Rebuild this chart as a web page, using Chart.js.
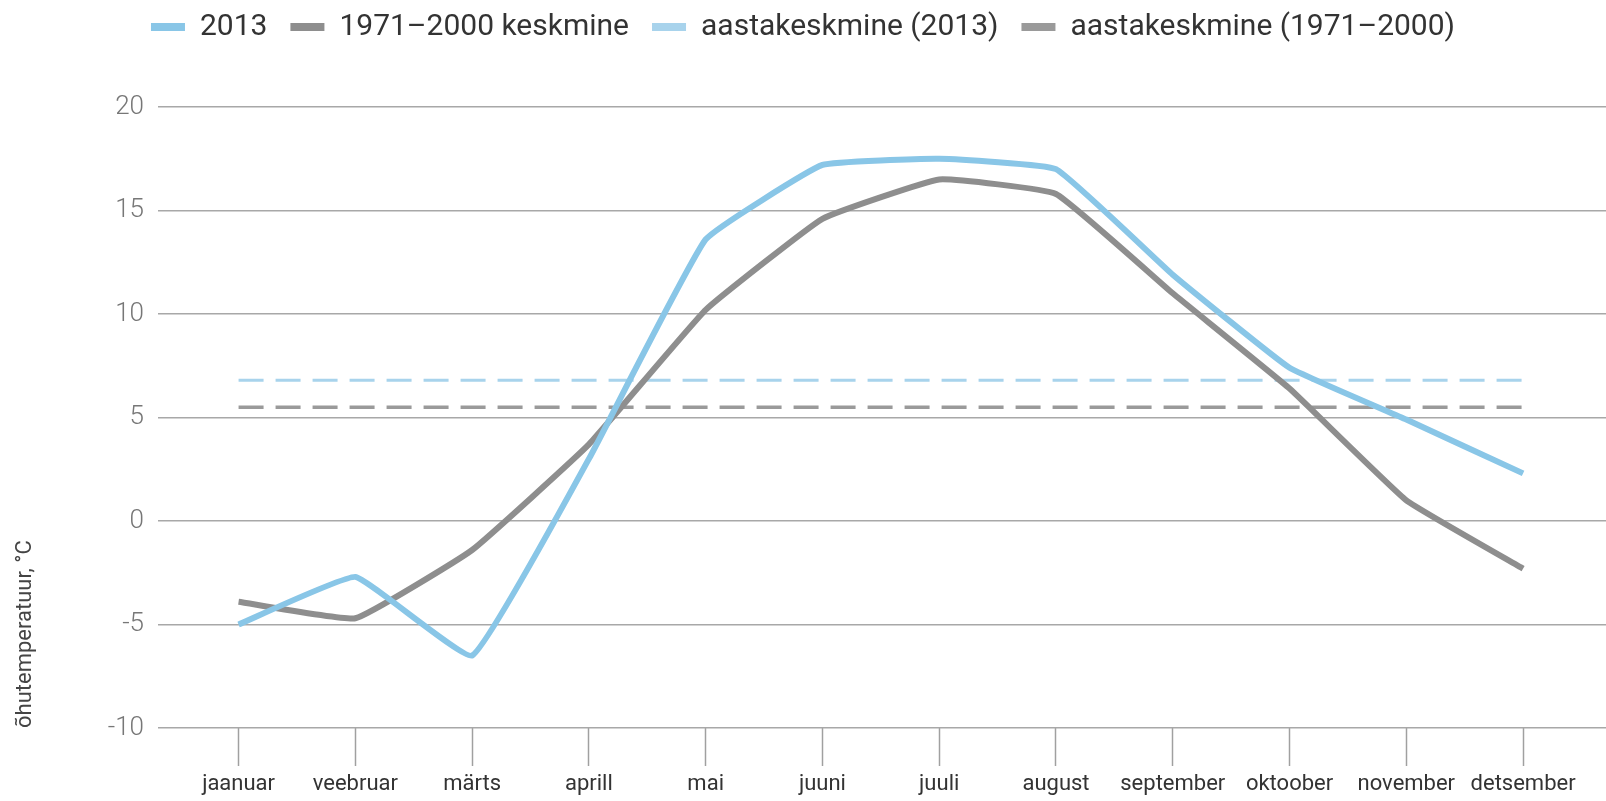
<!DOCTYPE html>
<html>
<head>
<meta charset="utf-8">
<script src="https://cdn.jsdelivr.net/npm/chart.js@4.4.1/dist/chart.umd.min.js"></script>
<style>
  html, body { margin: 0; padding: 0; background: #fff; }
  .chart-box { width: 1606px; height: 801px; position: relative; }
</style>
</head>
<body>
<div class="chart-box"><canvas id="chart"></canvas></div>
<script>
const months = ['jaanuar', 'veebruar', 'märts', 'aprill', 'mai', 'juuni', 'juuli', 'august', 'september', 'oktoober', 'november', 'detsember'];
const temps2013 = [-5.0, -2.7, -6.5, 3.0, 13.6, 17.2, 17.5, 17.0, 11.9, 7.4, 4.9, 2.3];
const tempsNorm = [-3.9, -4.7, -1.4, 3.7, 10.2, 14.6, 16.5, 15.8, 11.0, 6.4, 1.0, -2.3];
const mean2013 = [6.8, 6.8, 6.8, 6.8, 6.8, 6.8, 6.8, 6.8, 6.8, 6.8, 6.8, 6.8];
const meanNorm = [5.5, 5.5, 5.5, 5.5, 5.5, 5.5, 5.5, 5.5, 5.5, 5.5, 5.5, 5.5];
const yTicks = [-10, -5, 0, 5, 10, 15, 20];

const toPoints = (arr) => arr.map((v, i) => ({ x: i, y: v }));

Chart.defaults.font.family = 'Roboto, "Noto Sans", sans-serif';

// legend gets a fixed height so the plot starts at the right spot
const legendSpace = {
  id: 'legendSpace',
  beforeInit(chart) {
    const fit = chart.legend.fit;
    chart.legend.fit = function () {
      fit.bind(chart.legend)();
      this.height = 107;
    };
  },
  afterLayout(chart) {
    chart.legend.top -= 11;
  },
};

const ctx = document.querySelector('#chart').getContext('2d');

const myChart = new Chart(ctx, {
  type: 'line',
  data: {
    datasets: [
      {
        label: '2013',
        data: toPoints(temps2013),
        borderColor: '#89c6e7',
        backgroundColor: '#89c6e7',
        borderWidth: 6,
        pointRadius: 0,
        tension: 0.1,
      },
      {
        label: '1971–2000 keskmine',
        data: toPoints(tempsNorm),
        borderColor: '#8e8e8e',
        backgroundColor: '#8e8e8e',
        borderWidth: 6,
        pointRadius: 0,
        tension: 0.1,
      },
      {
        label: 'aastakeskmine (2013)',
        data: toPoints(mean2013),
        borderColor: '#a8d3ec',
        backgroundColor: '#a8d3ec',
        borderWidth: 3,
        borderDash: [25, 12],
        pointRadius: 0,
      },
      {
        label: 'aastakeskmine (1971–2000)',
        data: toPoints(meanNorm),
        borderColor: '#9a9a9a',
        backgroundColor: '#9a9a9a',
        borderWidth: 3.5,
        borderDash: [25, 12],
        pointRadius: 0,
      },
    ],
  },
  options: {
    responsive: true,
    maintainAspectRatio: false,
    animation: false,
    layout: { padding: 0 },
    plugins: {
      tooltip: { enabled: false },
      legend: {
        position: 'top',
        labels: {
          boxWidth: 34,
          boxHeight: 8,
          padding: 23,
          color: '#333',
          font: { size: 30 },
          generateLabels(chart) {
            const items = Chart.defaults.plugins.legend.labels.generateLabels(chart);
            items.forEach((item) => {
              item.lineDash = [];
              item.lineWidth = 0;
              item.fillStyle = item.strokeStyle;
            });
            return items;
          },
        },
      },
    },
    scales: {
      x: {
        type: 'linear',
        min: -0.69,
        max: 11.71,
        afterBuildTicks(scale) {
          scale.ticks = months.map((_, i) => ({ value: i }));
        },
        afterFit(scale) {
          scale.height = 73;
        },
        border: { display: false },
        grid: {
          drawOnChartArea: false,
          drawTicks: true,
          tickLength: 38,
          tickColor: '#a0a0a0',
          tickWidth: 1.5,
        },
        ticks: {
          autoSkip: false,
          maxRotation: 0,
          padding: 5,
          color: '#333',
          font: { size: 22 },
          callback: (value) => months[value],
        },
      },
      y: {
        min: -10,
        max: 20,
        afterBuildTicks(scale) {
          scale.ticks = yTicks.map((v) => ({ value: v }));
        },
        afterFit(scale) {
          scale.width = 158;
        },
        border: { display: false },
        grid: {
          color: '#a8a8a8',
          lineWidth: 1.5,
          drawTicks: false,
        },
        ticks: {
          padding: 14,
          color: '#777',
          font: { size: 26, weight: 300 },
        },
        title: {
          display: true,
          text: 'õhutemperatuur, °C',
          align: 'start',
          color: '#444',
          font: { size: 22 },
          padding: { top: 12, bottom: 0 },
        },
      },
    },
  },
  plugins: [legendSpace],
});
</script>
</body>
</html>
